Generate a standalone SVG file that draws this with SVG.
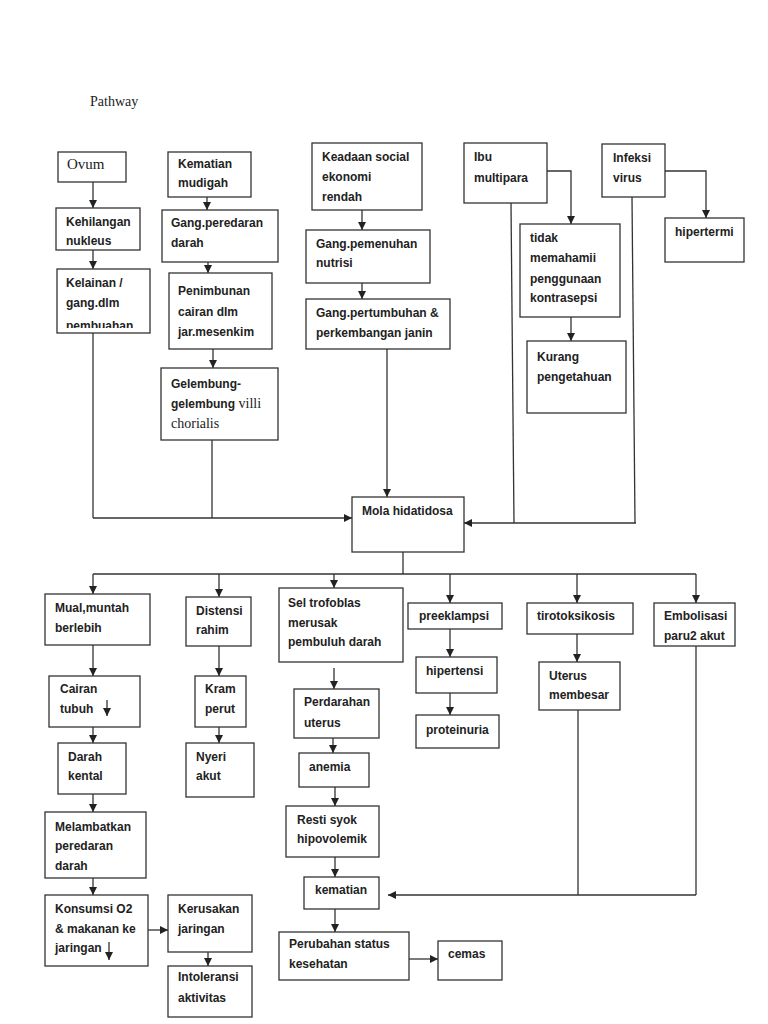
<svg xmlns="http://www.w3.org/2000/svg" width="768" height="1024" viewBox="0 0 768 1024">
<style>
.b{fill:#fff;stroke:#333;stroke-width:1.3}
.t{font-family:"Liberation Sans",Arial,sans-serif;font-weight:bold;font-size:12px;fill:#222}
.s{font-family:"Liberation Serif","Times New Roman",serif;font-weight:normal;fill:#222}
.c{fill:none;stroke:#333;stroke-width:1.3}
.a{marker-end:url(#ah)}
</style>
<defs>
<marker id="ah" markerUnits="userSpaceOnUse" markerWidth="8" markerHeight="8" refX="8" refY="4" orient="auto"><path d="M0,0 L8,4 L0,8 z" fill="#222"/></marker>
<clipPath id="clipKel"><rect x="58" y="270" width="91" height="58"/></clipPath>
</defs>
<rect width="768" height="1024" fill="#fff"/>
<text x="90" y="106" class="s" font-size="14">Pathway</text>

<g id="connectors">
<path class="c a" d="M93,182 V208"/>
<path class="c a" d="M93,250 V269"/>
<path class="c" d="M93,333 V518"/>
<path class="c a" d="M93,518 H352"/>
<path class="c a" d="M207,197 V210"/>
<path class="c a" d="M208,262 V273"/>
<path class="c a" d="M213,349 V368"/>
<path class="c" d="M212,440 V518"/>
<path class="c a" d="M362,210 V230"/>
<path class="c a" d="M362,283 V299"/>
<path class="c a" d="M387,349 V497"/>
<path class="c a" d="M547,171 H571 V224"/>
<path class="c a" d="M571,317 V341"/>
<path class="c" d="M511,203 L514,523"/>
<path class="c a" d="M636,523 H464"/>
<path class="c a" d="M665,171 H706 V218"/>
<path class="c" d="M632,197 L635,523"/>
<path class="c" d="M403,552 V574"/>
<path class="c" d="M93,574 H696"/>
<path class="c a" d="M93,574 V594"/>
<path class="c a" d="M219,574 V597"/>
<path class="c a" d="M334,574 V588"/>
<path class="c a" d="M450,574 V603"/>
<path class="c a" d="M577,574 V603"/>
<path class="c a" d="M696,574 V603"/>
<path class="c a" d="M93,645 V676"/>
<path class="c a" d="M93,727 V743"/>
<path class="c a" d="M93,794 V812"/>
<path class="c a" d="M93,878 V895"/>
<path class="c a" d="M148,930 H168"/>
<path class="c a" d="M208,952 V966"/>
<path class="c a" d="M219,646 V676"/>
<path class="c a" d="M219,727 V743"/>
<path class="c a" d="M334,668 V689"/>
<path class="c a" d="M333,738 V753"/>
<path class="c a" d="M335,787 V806"/>
<path class="c a" d="M335,857 V877"/>
<path class="c a" d="M335,909 V932"/>
<path class="c a" d="M409,959 H438"/>
<path class="c a" d="M450,629 V657"/>
<path class="c a" d="M450,693 V715"/>
<path class="c a" d="M577,634 V662"/>
<path class="c" d="M578,710 V895"/>
<path class="c" d="M696,646 V895"/>
<path class="c a" d="M696,895 H388"/>
</g>

<g id="ovum"><rect class="b" x="58" y="152" width="68" height="30"/><text x="67" y="169" class="s" font-size="15">Ovum</text></g>
<g id="kehilangan"><rect class="b" x="56" y="208" width="84" height="42"/><text class="t" x="66" y="226">Kehilangan</text><text class="t" x="66" y="245">nukleus</text></g>
<g id="kelainan"><rect class="b" x="57" y="269" width="93" height="64"/><text class="t" x="66" y="287">Kelainan /</text><text class="t" x="66" y="307">gang.dlm</text><text class="t" x="66" y="330" clip-path="url(#clipKel)">pembuahan</text></g>
<g id="kematian-mudigah"><rect class="b" x="168" y="152" width="83" height="45"/><text class="t" x="178" y="168">Kematian</text><text class="t" x="178" y="187">mudigah</text></g>
<g id="gang-peredaran"><rect class="b" x="162" y="210" width="116" height="52"/><text class="t" x="171" y="227">Gang.peredaran</text><text class="t" x="171" y="247">darah</text></g>
<g id="penimbunan"><rect class="b" x="169" y="273" width="103" height="76"/><text class="t" x="178" y="295">Penimbunan</text><text class="t" x="178" y="316">cairan dlm</text><text class="t" x="178" y="336">jar.mesenkim</text></g>
<g id="gelembung"><rect class="b" x="161" y="368" width="117" height="72"/><text class="t" x="171" y="388">Gelembung-</text><text class="t" x="171" y="408">gelembung<tspan class="s" font-size="14"> villi</tspan></text><text class="s" font-size="14" x="171" y="428">chorialis</text></g>
<g id="keadaan"><rect class="b" x="312" y="143" width="110" height="67"/><text class="t" x="322" y="161">Keadaan social</text><text class="t" x="322" y="181">ekonomi</text><text class="t" x="322" y="201">rendah</text></g>
<g id="gang-pemenuhan"><rect class="b" x="306" y="230" width="124" height="53"/><text class="t" x="316" y="248">Gang.pemenuhan</text><text class="t" x="316" y="267">nutrisi</text></g>
<g id="gang-pertumbuhan"><rect class="b" x="306" y="299" width="144" height="50"/><text class="t" x="316" y="317">Gang.pertumbuhan &amp;</text><text class="t" x="316" y="337">perkembangan janin</text></g>
<g id="ibu-multipara"><rect class="b" x="464" y="143" width="83" height="60"/><text class="t" x="474" y="161">Ibu</text><text class="t" x="474" y="182">multipara</text></g>
<g id="tidak-memahami"><rect class="b" x="520" y="224" width="100" height="93"/><text class="t" x="530" y="242">tidak</text><text class="t" x="530" y="262">memahamii</text><text class="t" x="530" y="283">penggunaan</text><text class="t" x="530" y="302">kontrasepsi</text></g>
<g id="kurang-pengetahuan"><rect class="b" x="527" y="341" width="99" height="72"/><text class="t" x="537" y="361">Kurang</text><text class="t" x="537" y="381">pengetahuan</text></g>
<g id="infeksi-virus"><rect class="b" x="602" y="144" width="63" height="53"/><text class="t" x="613" y="162">Infeksi</text><text class="t" x="613" y="182">virus</text></g>
<g id="hipertermi"><rect class="b" x="665" y="218" width="79" height="44"/><text class="t" x="675" y="236">hipertermi</text></g>
<g id="mola"><rect class="b" x="352" y="497" width="112" height="55"/><text class="t" x="362" y="515">Mola hidatidosa</text></g>
<g id="mual"><rect class="b" x="45" y="594" width="105" height="51"/><text class="t" x="55" y="612">Mual,muntah</text><text class="t" x="55" y="632">berlebih</text></g>
<g id="distensi"><rect class="b" x="186" y="597" width="65" height="49"/><text class="t" x="196" y="615">Distensi</text><text class="t" x="196" y="634">rahim</text></g>
<g id="sel-trofoblas"><rect class="b" x="279" y="588" width="124" height="74"/><text class="t" x="288" y="607">Sel trofoblas</text><text class="t" x="288" y="627">merusak</text><text class="t" x="288" y="646">pembuluh darah</text></g>
<g id="preeklampsi"><rect class="b" x="408" y="603" width="94" height="26"/><text class="t" x="419" y="620">preeklampsi</text></g>
<g id="tirotoksikosis"><rect class="b" x="527" y="603" width="106" height="31"/><text class="t" x="537" y="620">tirotoksikosis</text></g>
<g id="embolisasi"><rect class="b" x="654" y="603" width="81" height="43"/><text class="t" x="664" y="620">Embolisasi</text><text class="t" x="664" y="640">paru2 akut</text></g>
<g id="cairan"><rect class="b" x="49" y="676" width="91" height="51"/><text class="t" x="60" y="693">Cairan</text><text class="t" x="60" y="713">tubuh</text><path class="c a" d="M107,700 V716"/></g>
<g id="kram"><rect class="b" x="195" y="676" width="51" height="51"/><text class="t" x="205" y="693">Kram</text><text class="t" x="205" y="713">perut</text></g>
<g id="perdarahan"><rect class="b" x="294" y="689" width="85" height="49"/><text class="t" x="304" y="706">Perdarahan</text><text class="t" x="304" y="727">uterus</text></g>
<g id="hipertensi"><rect class="b" x="416" y="657" width="81" height="36"/><text class="t" x="426" y="675">hipertensi</text></g>
<g id="proteinuria"><rect class="b" x="416" y="715" width="83" height="33"/><text class="t" x="426" y="734">proteinuria</text></g>
<g id="uterus-membesar"><rect class="b" x="539" y="662" width="81" height="48"/><text class="t" x="549" y="680">Uterus</text><text class="t" x="549" y="699">membesar</text></g>
<g id="darah-kental"><rect class="b" x="58" y="743" width="68" height="51"/><text class="t" x="68" y="761">Darah</text><text class="t" x="68" y="780">kental</text></g>
<g id="nyeri-akut"><rect class="b" x="186" y="743" width="68" height="54"/><text class="t" x="196" y="761">Nyeri</text><text class="t" x="196" y="780">akut</text></g>
<g id="anemia"><rect class="b" x="299" y="753" width="70" height="34"/><text class="t" x="309" y="771">anemia</text></g>
<g id="melambatkan"><rect class="b" x="45" y="812" width="101" height="66"/><text class="t" x="55" y="831">Melambatkan</text><text class="t" x="55" y="850">peredaran</text><text class="t" x="55" y="870">darah</text></g>
<g id="resti-syok"><rect class="b" x="286" y="806" width="93" height="51"/><text class="t" x="297" y="824">Resti syok</text><text class="t" x="297" y="843">hipovolemik</text></g>
<g id="kematian"><rect class="b" x="304" y="877" width="75" height="32"/><text class="t" x="315" y="894">kematian</text></g>
<g id="konsumsi"><rect class="b" x="45" y="895" width="103" height="71"/><text class="t" x="55" y="913">Konsumsi O2</text><text class="t" x="55" y="933">&amp; makanan ke</text><text class="t" x="55" y="952">jaringan</text><path class="c a" d="M109,942 V960"/></g>
<g id="kerusakan"><rect class="b" x="168" y="895" width="84" height="57"/><text class="t" x="178" y="913">Kerusakan</text><text class="t" x="178" y="933">jaringan</text></g>
<g id="intoleransi"><rect class="b" x="168" y="966" width="84" height="51"/><text class="t" x="178" y="981">Intoleransi</text><text class="t" x="178" y="1002">aktivitas</text></g>
<g id="perubahan"><rect class="b" x="279" y="932" width="130" height="48"/><text class="t" x="289" y="948">Perubahan status</text><text class="t" x="289" y="968">kesehatan</text></g>
<g id="cemas"><rect class="b" x="438" y="941" width="64" height="39"/><text class="t" x="448" y="958">cemas</text></g>
</svg>
